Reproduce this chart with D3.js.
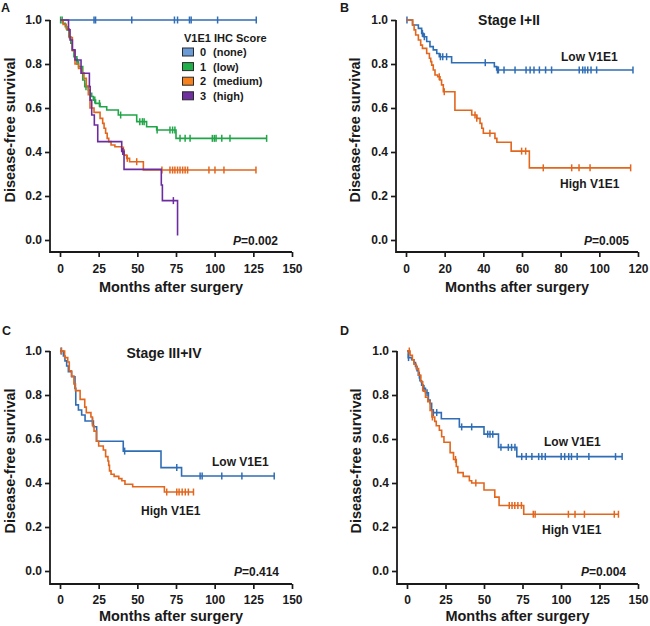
<!DOCTYPE html>
<html>
<head>
<meta charset="utf-8">
<script src="https://cdn.jsdelivr.net/npm/d3@7"></script>
<style>
  body { margin: 0; background: #fff; }
  svg text { font-family: "Liberation Sans", Arial, sans-serif; font-weight: bold; fill: #1a1a1a; }
</style>
</head>
<body>
<svg id="chart" width="650" height="626"></svg>
<script>
// ---- data (months, survival fraction) ----
const yTicks = [0, 0.2, 0.4, 0.6, 0.8, 1.0]
const xTicks150 = [0, 25, 50, 75, 100, 125, 150]
const xTicks120 = [0, 20, 40, 60, 80, 100, 120]

const scoreNums = ['0', '1', '2', '3']
const scoreNames = ['(none)', '(low)', '(medium)', '(high)']

// panel A: by IHC score
const aNoneSteps = []
const aNoneCensor = [22, 23, 46.4, 74, 76, 83.7, 84.8, 101.9, 126.9]
const aLowSteps = [[2, 0.985], [3.4, 0.97], [4.5, 0.955], [5.7, 0.924], [7, 0.894], [7.9, 0.864], [9, 0.833], [10.9, 0.811], [12, 0.788], [14.7, 0.727], [16, 0.697], [18.3, 0.682], [19.5, 0.667], [20.5, 0.652], [21.6, 0.636], [23, 0.621], [25.9, 0.606], [30.2, 0.591], [37.7, 0.568], [49.6, 0.538], [56, 0.515], [62.5, 0.5], [75, 0.462]]
const aLowCensor = [0.4, 1.4, 11, 16.8, 22.5, 25.5, 39.2, 51.6, 53.3, 54.4, 62.8, 71.1, 72.8, 74.3, 77.6, 80.9, 84.1, 98.5, 99.8, 100.9, 104.6, 109.9, 133.6]
const aMedSteps = [[2, 0.98], [4, 0.96], [6, 0.92], [8, 0.86], [9.7, 0.8], [12, 0.78], [14, 0.76], [15.5, 0.735], [17, 0.7], [18.3, 0.66], [19.4, 0.6], [22, 0.58], [25.9, 0.553], [27.6, 0.53], [28.5, 0.508], [29.5, 0.485], [30.5, 0.462], [31.5, 0.447], [33, 0.432], [35.5, 0.424], [39.9, 0.409], [41.5, 0.386], [43.1, 0.371], [45, 0.356], [53.9, 0.318]]
const aMedCensor = [41, 43.5, 49.6, 65.9, 71.1, 72.8, 74.3, 76, 77.6, 79.3, 80.9, 82.5, 96.3, 100.2, 106, 126.7]
const aHighSteps = [[5.5, 0.955], [6.5, 0.909], [8, 0.864], [9.7, 0.818], [13.6, 0.758], [19, 0.697], [19.5, 0.636], [20.5, 0.568], [22.2, 0.523], [24.4, 0.447], [39.9, 0.402], [41.4, 0.321], [65.5, 0.25], [66.2, 0.179], [76, 0.02]]
const aHighCensor = [40.6, 73.3]

// panel B: stage I+II
const bLowSteps = [[3.4, 0.977], [6.4, 0.962], [8.1, 0.939], [9, 0.924], [10.7, 0.902], [12.4, 0.879], [14.1, 0.864], [15.9, 0.848], [17.2, 0.833], [23.6, 0.806], [45.7, 0.788], [46.9, 0.773]]
const bLowCensor = [0.5, 8.5, 9.5, 17.8, 19, 21, 41, 47.3, 47.8, 50.7, 56.4, 62.1, 64.2, 66.2, 69, 72.2, 75.3, 89.6, 91.4, 92.6, 94, 95.7, 98.6, 117.4]
const bHighSteps = [[3.4, 0.977], [4.2, 0.955], [5, 0.932], [6.4, 0.909], [7.6, 0.886], [8.5, 0.871], [10.7, 0.848], [12.1, 0.826], [12.8, 0.811], [13.3, 0.795], [14.1, 0.773], [15, 0.75], [16.4, 0.742], [17.6, 0.727], [18.4, 0.705], [19.3, 0.674], [25.3, 0.59], [34, 0.568], [36.6, 0.553], [38.3, 0.53], [39.2, 0.508], [40, 0.485], [46, 0.462], [47, 0.444], [54.4, 0.404], [63.8, 0.328]]
const bHighCensor = [17.2, 19.8, 35.7, 36.6, 43.4, 59.8, 61.9, 71, 85.7, 89.5, 95.2, 116.2]

// panel C: stage III+IV
const cLowSteps = [[2.2, 0.977], [3.2, 0.955], [4.3, 0.932], [5.4, 0.906], [7.5, 0.883], [9.7, 0.83], [10.2, 0.755], [11.9, 0.732], [14, 0.709], [16.2, 0.682], [21.6, 0.656], [23.7, 0.59], [40.9, 0.545], [65.3, 0.47], [78.6, 0.432]]
const cLowCensor = [0.7, 21, 41.8, 75.5, 90.6, 91.9, 104.6, 117.6, 138.5]
const cHighSteps = [[3, 0.97], [5, 0.95], [6, 0.91], [7.5, 0.886], [9, 0.85], [10, 0.82], [13, 0.78], [16, 0.745], [17, 0.72], [20, 0.7], [21, 0.66], [22, 0.636], [23.5, 0.59], [25, 0.568], [28, 0.55], [29.5, 0.52], [31, 0.5], [31.5, 0.48], [32, 0.455], [33, 0.44], [35, 0.43], [38, 0.42], [40, 0.41], [42, 0.394], [47, 0.383], [67.5, 0.359]]
const cHighCensor = [1, 69, 75.5, 77, 79, 81, 83, 86.3]

// panel D: all patients
const dLowSteps = [[0.8, 0.97], [3, 0.96], [4.5, 0.947], [5.5, 0.93], [6.5, 0.91], [7.4, 0.89], [8.4, 0.865], [9.5, 0.845], [10.6, 0.83], [12, 0.81], [13.9, 0.777], [15, 0.762], [16, 0.732], [17, 0.72], [22.3, 0.692], [34, 0.655], [50, 0.622], [59.4, 0.562], [71.3, 0.52]]
const dLowCensor = [1, 8, 11, 13, 17.1, 19.3, 35.5, 42, 52.4, 53.9, 55.7, 61, 65.8, 67.9, 70.1, 74.5, 77.4, 81.1, 85.5, 87.6, 89.8, 100.1, 102.4, 105, 106.8, 110.5, 118.1, 135.4, 139.7]
const dHighSteps = [[2, 0.98], [3.5, 0.96], [4.5, 0.94], [6, 0.92], [7.5, 0.89], [9, 0.86], [10.2, 0.82], [12, 0.79], [13.5, 0.77], [15, 0.73], [16.2, 0.7], [18, 0.68], [19, 0.66], [21, 0.64], [22.5, 0.61], [24, 0.585], [28, 0.538], [30.2, 0.507], [32, 0.475], [33, 0.447], [36.5, 0.43], [40.5, 0.41], [42, 0.4], [50, 0.368], [57, 0.336], [59.8, 0.298], [75.8, 0.258]]
const dHighCensor = [1.5, 16.5, 31.5, 44.7, 66.4, 68.2, 70, 72, 74.3, 82, 83.2, 104.8, 109.1, 115.2, 134.6, 137.3]

// ---- styles ----
const BLUE = '#2f6db5'
const GREEN = '#22a548'
const ORANGE = '#e2661c'
const PURPLE = '#6a2c9e'
const legendFill = ['#6b9bd6', '#20b04b', '#f5821f', '#7030a0']
const AXIS = '#1a1a1a'

const svg = d3.select('#chart')

const survAt = (steps, t) => {
  let v = 1
  for (const [st, sv] of steps) if (st <= t) v = sv
  return v
}

const styleAxis = g => {
  g.select('.domain').remove()
  g.attr('font-family', null).attr('font-size', null)
  g.selectAll('.tick line').attr('stroke', AXIS).attr('stroke-width', 1.7)
  g.selectAll('.tick text').style('font-size', '12px')
}

const drawPanel = p => {
  const x = d3.scaleLinear().domain([0, p.xMax]).range([p.x0, p.x1])
  const y = d3.scaleLinear().domain([0, 1]).range([p.yZero, p.yTop])
  const g = svg.append('g')

  // offset axes, prism style
  g.append('g')
    .attr('transform', `translate(${p.yAxisX},0)`)
    .call(d3.axisLeft(y).tickValues(yTicks).tickFormat(d3.format('.1f')).tickSize(5).tickPadding(3))
    .call(styleAxis)
  g.append('g')
    .attr('transform', `translate(0,${p.xAxisY})`)
    .call(d3.axisBottom(x).tickValues(p.xTicks).tickSize(5).tickPadding(p.xPad))
    .call(styleAxis)
  g.append('path')
    .attr('d', `M${p.yAxisX},${p.yTop}V${p.xAxisY}H${p.x1}`)
    .attr('fill', 'none').attr('stroke', AXIS).attr('stroke-width', 1.8)

  g.append('text')
    .attr('transform', `translate(${p.yTitleX},${(p.yTop + p.yZero) / 2}) rotate(-90)`)
    .attr('text-anchor', 'middle')
    .style('font-size', '14.5px')
    .text('Disease-free survival')
  g.append('text')
    .attr('x', (p.yAxisX + p.x1) / 2).attr('y', p.xTitleY)
    .attr('text-anchor', 'middle')
    .style('font-size', '14.5px')
    .text('Months after surgery')

  g.append('text').attr('x', p.letterX).attr('y', p.letterY).style('font-size', '12.5px').text(p.letter)

  const line = d3.line().x(d => x(d[0])).y(d => y(d[1])).curve(d3.curveStepAfter)
  p.series.forEach(s => {
    const pts = [[0, 1], ...s.steps]
    const end = d3.max([...s.censor, ...s.steps.map(d => d[0])])
    pts.push([end, pts[pts.length - 1][1]])
    g.append('path')
      .attr('d', line(pts))
      .attr('fill', 'none').attr('stroke', s.color).attr('stroke-width', 1.6)
    g.selectAll(null).data(s.censor).join('line')
      .attr('x1', d => x(d)).attr('x2', d => x(d))
      .attr('y1', d => y(survAt(s.steps, d)) - 3.5)
      .attr('y2', d => y(survAt(s.steps, d)) + 3.5)
      .attr('stroke', s.color).attr('stroke-width', 1.5)
  })

  const pt = g.append('text').attr('x', p.pX).attr('y', p.yZero + 5).attr('text-anchor', 'end').style('font-size', '12px')
  pt.append('tspan').style('font-style', 'italic').text('P')
  pt.append('tspan').text('=' + p.pValue)

  if (p.title) {
    g.append('text').attr('x', p.title.x).attr('y', p.title.y).attr('text-anchor', 'middle').style('font-size', '14px').text(p.title.text)
  }
  (p.labels || []).forEach(l => {
    g.append('text').attr('x', l.x).attr('y', l.y).style('font-size', '12px').text(l.text)
  })
  return g
}

const rowTop = { yTop: 20, yZero: 240, xAxisY: 252, xPad: 7, xTitleY: 292 }
const rowBottom = { yTop: 351, yZero: 571, xAxisY: 584, xPad: 6, xTitleY: 620.5 }

const gA = drawPanel({
  ...rowTop, letter: 'A', letterX: 1, letterY: 12,
  yAxisX: 50, x0: 60, x1: 292, xMax: 150, xTicks: xTicks150, yTitleX: 14.5,
  pX: 278, pValue: '0.002',
  series: [
    { steps: aNoneSteps, censor: aNoneCensor, color: BLUE },
    { steps: aLowSteps, censor: aLowCensor, color: GREEN },
    { steps: aMedSteps, censor: aMedCensor, color: ORANGE },
    { steps: aHighSteps, censor: aHighCensor, color: PURPLE }
  ]
})

drawPanel({
  ...rowTop, letter: 'B', letterX: 340, letterY: 12,
  yAxisX: 396, x0: 406, x1: 638, xMax: 120, xTicks: xTicks120, yTitleX: 360,
  pX: 629, pValue: '0.005',
  title: { text: 'Stage I+II', x: 509, y: 25 },
  labels: [{ text: 'Low V1E1', x: 561, y: 61 }, { text: 'High V1E1', x: 560, y: 188 }],
  series: [
    { steps: bLowSteps, censor: bLowCensor, color: BLUE },
    { steps: bHighSteps, censor: bHighCensor, color: ORANGE }
  ]
})

drawPanel({
  ...rowBottom, letter: 'C', letterX: 2, letterY: 335,
  yAxisX: 50, x0: 60, x1: 292, xMax: 150, xTicks: xTicks150, yTitleX: 14.5,
  pX: 279, pValue: '0.414',
  title: { text: 'Stage III+IV', x: 164, y: 358 },
  labels: [{ text: 'Low V1E1', x: 212, y: 466 }, { text: 'High V1E1', x: 141, y: 515 }],
  series: [
    { steps: cLowSteps, censor: cLowCensor, color: BLUE },
    { steps: cHighSteps, censor: cHighCensor, color: ORANGE }
  ]
})

drawPanel({
  ...rowBottom, letter: 'D', letterX: 340, letterY: 335,
  yAxisX: 397, x0: 407, x1: 638, xMax: 150, xTicks: xTicks150, yTitleX: 361,
  pX: 626, pValue: '0.004',
  labels: [{ text: 'Low V1E1', x: 544, y: 446 }, { text: 'High V1E1', x: 542, y: 534 }],
  series: [
    { steps: dLowSteps, censor: dLowCensor, color: BLUE },
    { steps: dHighSteps, censor: dHighCensor, color: ORANGE }
  ]
})

// legend for panel A
const leg = gA.append('g')
leg.append('text').attr('x', 184).attr('y', 42).style('font-size', '11px').text('V1E1 IHC Score')
const rows = leg.selectAll('g.row').data(scoreNums).join('g')
  .attr('class', 'row')
  .attr('transform', (d, i) => `translate(0,${52 + i * 14.6})`)
rows.append('rect')
  .attr('x', 182.5).attr('y', -4).attr('width', 11).attr('height', 8)
  .attr('fill', (d, i) => legendFill[i]).attr('stroke', '#2a2a2a').attr('stroke-width', 1)
rows.append('text').attr('x', 200).attr('y', 4).style('font-size', '11px').text(d => d)
rows.append('text').attr('x', 213).attr('y', 4).style('font-size', '11px').text((d, i) => scoreNames[i])
</script>
</body>
</html>
